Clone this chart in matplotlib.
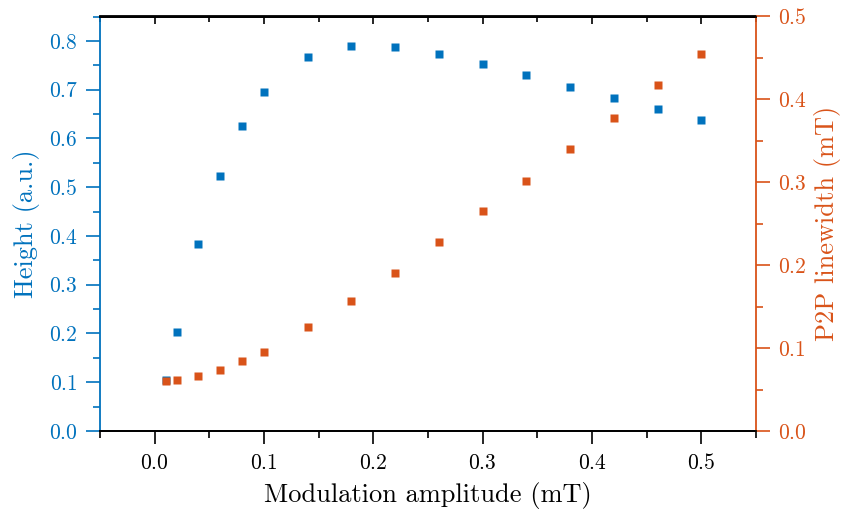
import numpy as np
import matplotlib
matplotlib.use("Agg")
import matplotlib.pyplot as plt
from matplotlib.ticker import MultipleLocator

plt.rcParams['font.family'] = 'serif'
plt.rcParams['font.serif'] = ['cmr10']
plt.rcParams['mathtext.fontset'] = 'cm'
plt.rcParams['axes.formatter.use_mathtext'] = True

# modulation amplitude (mT)
mod_amp = [0.01, 0.02, 0.04, 0.06, 0.08, 0.10, 0.14, 0.18, 0.22, 0.26,
           0.30, 0.34, 0.38, 0.42, 0.46, 0.50]
# signal height (a.u.)
height = [0.105, 0.204, 0.383, 0.523, 0.625, 0.695, 0.767, 0.789, 0.787, 0.774,
          0.753, 0.730, 0.706, 0.683, 0.660, 0.637]
# peak-to-peak linewidth (mT)
p2p = [0.060, 0.061, 0.066, 0.073, 0.084, 0.095, 0.125, 0.157, 0.191, 0.228,
       0.265, 0.302, 0.340, 0.378, 0.417, 0.455]

blue = '#0072BD'
orange = '#D95319'

fig = plt.figure(figsize=(8.43, 5.14), dpi=100)
W, H = 843, 514
ax = fig.add_axes([100 / W, (H - 431) / H, (756 - 100) / W, (431 - 16.5) / H])
ax2 = ax.twinx()

ax.plot(mod_amp, height, 's', color=blue, ms=5.8, mec='none')
ax2.plot(mod_amp, p2p, 's', color=orange, ms=5.8, mec='none')

ax.set_xlim(-0.05, 0.55)
ax.set_ylim(0, 0.85)
ax2.set_ylim(0, 0.5)

ax.xaxis.set_major_locator(MultipleLocator(0.1))
ax.xaxis.set_minor_locator(MultipleLocator(0.05))
ax.yaxis.set_major_locator(MultipleLocator(0.1))
ax.yaxis.set_minor_locator(MultipleLocator(0.05))
ax2.yaxis.set_major_locator(MultipleLocator(0.1))
ax2.yaxis.set_minor_locator(MultipleLocator(0.05))

fs_tick = 15.5
fs_lab = 19

ax.tick_params(axis='x', which='major', direction='out', length=9, width=1.2,
               labelsize=fs_tick, pad=7)
ax.tick_params(axis='x', which='minor', direction='out', length=5, width=1.2)
ax.tick_params(axis='y', which='major', direction='out', length=10, width=1.2,
               color=blue, labelcolor=blue, labelsize=fs_tick, pad=6)
ax.tick_params(axis='y', which='minor', direction='out', length=5, width=1.2, color=blue)
ax2.tick_params(axis='y', which='major', direction='out', length=10, width=1.2,
                color=orange, labelcolor=orange, labelsize=fs_tick, pad=6)
ax2.tick_params(axis='y', which='minor', direction='out', length=5, width=1.2, color=orange)

# top ticks pointing inward
top = ax.secondary_xaxis('top')
top.xaxis.set_major_locator(MultipleLocator(0.1))
top.xaxis.set_minor_locator(MultipleLocator(0.05))
top.tick_params(which='major', direction='in', length=6, width=1.2, labeltop=False)
top.tick_params(which='minor', direction='in', length=4, width=1.2)
top.spines['top'].set_linewidth(1.3)

for a in (ax, ax2):
    for s in a.spines.values():
        s.set_linewidth(1.3)
ax.spines['left'].set_color(blue)
ax.spines['right'].set_visible(False)
ax2.spines['left'].set_visible(False)
ax2.spines['right'].set_color(orange)

ax.set_xlabel('Modulation amplitude (mT)', fontsize=fs_lab, labelpad=6)
ax.set_ylabel('Height (a.u.)', fontsize=fs_lab, color=blue, labelpad=6)
ax2.set_ylabel('P2P linewidth (mT)', fontsize=fs_lab, color=orange, labelpad=5)

fig.savefig('out.png', dpi=100)
